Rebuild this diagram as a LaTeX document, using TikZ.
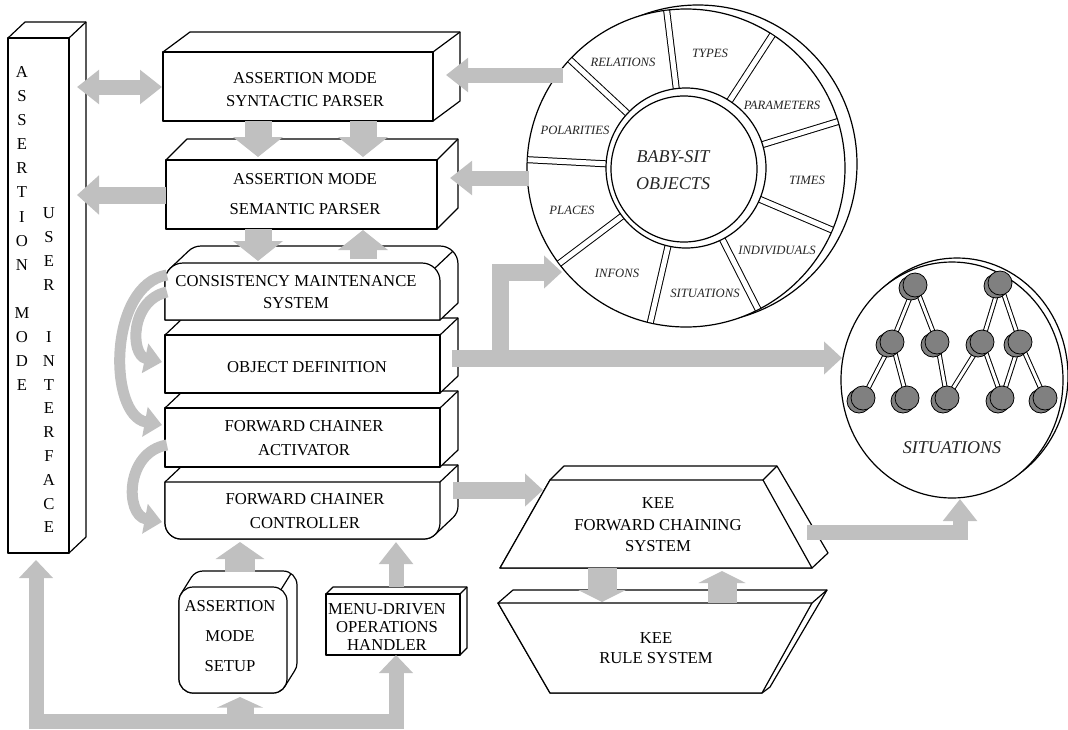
\documentclass[tikz,border=0pt]{standalone}
\usepackage{fontspec}
\setmainfont{Liberation Serif}
\usetikzlibrary{arrows.meta,calc}
\definecolor{agray}{RGB}{192,192,192}
\definecolor{bgray}{RGB}{128,128,128}
\newcommand{\cuboidbox}[6]{% x1 y1 x2 y2 dx dyup
  \draw[boxface] (#1,#4) -- (#1,#2) -- (#1+#5,#2-#6) -- (#3+#5,#2-#6) -- (#3+#5,#4-#6) -- (#3,#4) -- cycle;
  \draw[boxface] (#1,#2) rectangle (#3,#4);
  \draw[boxface] (#3,#2) -- (#3+#5,#2-#6);
}
\tikzset{
  boxface/.style={draw=black,fill=white,line width=0.9pt,line join=round},
  txt/.style={font=\fontsize{12.5}{#1}\selectfont,inner sep=0pt,align=center},
  txt/.default=17pt,
  wtxt/.style={font=\fontsize{9.5}{11}\selectfont\itshape,inner sep=0pt,text=black!85},
  btxt/.style={font=\fontsize{13.5}{20}\selectfont\itshape,inner sep=0pt,align=center,text=black!85},
  garrow/.style n args={3}{draw=agray,line width=#1,line join=miter,-{Triangle[width=#2,length=#3]}},
  smallarrow/.style={garrow={11.25pt}{24.75pt}{16.5pt}},
  medarrow/.style={garrow={12.75pt}{24pt}{13.5pt}},
  bigarrow/.style={garrow={20.25pt}{36.75pt}{15pt}},
  keearrow/.style={garrow={21.75pt}{35.25pt}{9pt}},
  curvarrow/.style={garrow={8.25pt}{22pt}{13pt}},
  ball/.style={circle,draw=black,fill=bgray,line width=0.6pt,minimum size=18pt,inner sep=0pt},
  rodout/.style={draw=black,line width=3.75pt},
  rodin/.style={draw=white,line width=2.25pt},
}
\begin{document}
\begin{tikzpicture}[x=0.75pt,y=-0.75pt]
\useasboundingbox (0,0) rectangle (1068,729);

% ---------- user interface column
\cuboidbox{8}{38}{69}{553}{17}{16}
\foreach \ch [count=\i from 0] in {A,S,S,E,R,T,I,O,N} \node[txt] (am\i) at (22,72+24.1*\i) {\ch};
\foreach \ch [count=\i from 0] in {M,O,D,E} \node[txt] (md\i) at (22,313+24.1*\i) {\ch};
\foreach \ch [count=\i from 0] in {U,S,E,R} \node[txt] (us\i) at (49,213+24*\i) {\ch};
\foreach \ch [count=\i from 0] in {I,N,T,E,R,F,A,C,E} \node[txt] (if\i) at (49,337+23.8*\i) {\ch};

% ---------- parsers
\cuboidbox{163}{52}{433}{121}{27}{20}
\node[txt=17.25pt] (syn) at (305,90) {ASSERTION MODE\\SYNTACTIC PARSER};
\cuboidbox{166}{160}{437}{229}{21}{21}
\node[txt=22pt] (sem) at (305,194) {ASSERTION MODE\\SEMANTIC PARSER};

% ---------- stack
% FCC
\draw[boxface] (165,482) -- (183,465) -- (458,465) -- (458,506) arc[start angle=0,end angle=45,radius=16] -- ++(-18,17) arc[start angle=45,end angle=90,radius=16] -- (181,539) arc[start angle=90,end angle=180,radius=16] -- cycle;
\draw[boxface] (165,482) -- (440,482) -- (440,523) arc[start angle=0,end angle=90,radius=16] -- (181,539) arc[start angle=90,end angle=180,radius=16] -- cycle;
\draw[boxface] (440,482) -- (458,465);
% FCA, OD
\cuboidbox{165}{408}{440}{467}{18}{17}
\cuboidbox{165}{335}{440}{393}{18}{17}
% CMS
\draw[boxface] (165,320) -- (165,281) arc[start angle=180,end angle=225,radius=18] -- ++(18,-17) arc[start angle=225,end angle=270,radius=18] -- (440,246) arc[start angle=270,end angle=360,radius=18] -- (458,303) -- (440,320) -- cycle;
\draw[boxface] (165,320) -- (165,281) arc[start angle=180,end angle=270,radius=18] -- (422,263) arc[start angle=270,end angle=360,radius=18] -- (440,320) -- cycle;
\draw[boxface] (434.73,268.27) -- ++(18,-17);
\node[txt] (cms) at (296,292) {CONSISTENCY MAINTENANCE\\SYSTEM};
\node[txt] (od) at (307,367) {OBJECT DEFINITION};
\node[txt=18.5pt] (fca) at (304,438) {FORWARD CHAINER\\ACTIVATOR};
\node[txt=18pt] (fcc) at (305,511) {FORWARD CHAINER\\CONTROLLER};

% ---------- assertion mode setup
\draw[boxface] (179,679) -- (179,601) arc[start angle=180,end angle=215,radius=14] -- ++(10,-16) arc[start angle=215,end angle=270,radius=14] -- (283,571) arc[start angle=270,end angle=360,radius=14] -- (297,663) arc[start angle=0,end angle=35,radius=14] -- ++(-10,16) arc[start angle=35,end angle=90,radius=14] -- (193,693) arc[start angle=90,end angle=180,radius=14] -- cycle;
\draw[boxface,rounded corners=10.5pt] (179,587) rectangle (287,693);
\draw[boxface] (281.03,589.53) -- ++(10,-16);
\node[txt=22.5pt] (ams) at (230,636) {ASSERTION\\MODE\\SETUP};

% ---------- menu-driven operations handler
\cuboidbox{326}{594}{460}{655}{7}{7}
\node[txt=13.2pt] (moh) at (387,627) {MENU-DRIVEN\\OPERATIONS\\HANDLER};

% ---------- KEE forward chaining system
\draw[boxface] (500,568) -- (550,480) -- (564,466) -- (777,466) -- (828,553) -- (812,568) -- cycle;
\draw[boxface] (500,568) -- (550,480) -- (763,480) -- (812,568) -- cycle;
\draw[boxface] (763,480) -- (777,466);
\node[txt=16.1pt] (fcs) at (658,525) {KEE\\FORWARD CHAINING\\SYSTEM};

% ---------- KEE rule system
\draw[boxface] (550,693) -- (498,603) -- (513,590) -- (827,590) -- (770,687) -- (762,693) -- cycle;
\draw[boxface] (498,603) -- (812,603) -- (762,693) -- (550,693) -- cycle;
\draw[boxface] (812,603) -- (827,590);
\node[txt=15pt] (rs) at (656,648) {KEE\\RULE SYSTEM};

% ---------- BABY-SIT wheel
\begin{scope}[shift={(686,168)}]
  \draw[boxface] (12,-4) circle[radius=159];
  \draw[boxface] (0,0) circle[radius=159];
  \foreach \a in {-97,-57,...,223} {
    \draw[line width=5.25pt] (\a:79) -- (\a:159);
    \draw[white,line width=3.75pt] (\a:78) -- (\a:158.4);
  }
  \draw[boxface] (0,0) circle[radius=80];
  \draw[boxface] (-2,1) circle[radius=73];
\end{scope}
\node[btxt] (bso) at (673,170) {BABY-SIT\\OBJECTS};
\node[wtxt] (wrel) at (623,62) {RELATIONS};
\node[wtxt] (wtyp) at (710,53) {TYPES};
\node[wtxt] (wpar) at (782,105) {PARAMETERS};
\node[wtxt] (wtim) at (807,180) {TIMES};
\node[wtxt] (wind) at (777,250) {INDIVIDUALS};
\node[wtxt] (wsit) at (705,293) {SITUATIONS};
\node[wtxt] (winf) at (617,273) {INFONS};
\node[wtxt] (wpla) at (572,210) {PLACES};
\node[wtxt] (wpol) at (575,130) {POLARITIES};

% ---------- SITUATIONS
\draw[boxface] (957,376) ellipse[x radius=111,y radius=118];
\draw[boxface] (952,380) ellipse[x radius=111,y radius=118];
\coordinate (t1) at (915,285); \coordinate (t2) at (1000,283);
\coordinate (m1) at (892,342); \coordinate (m2) at (937,342);
\coordinate (m3) at (982,342); \coordinate (m4) at (1020,342);
\coordinate (b1) at (863,398); \coordinate (b2) at (907,398);
\coordinate (b3) at (947,398); \coordinate (b4) at (1002,398);
\coordinate (b5) at (1045,398);
\foreach \p/\q in {t1/m1,t1/m2,t2/m3,t2/m4,m1/b1,m1/b2,m2/b3,m3/b3,m3/b4,m4/b4,m4/b5} {
  \draw[rodout] (\p) -- (\q);
  \draw[rodin] (\p) -- (\q);
}
\foreach \p in {t1,t2,m1,m2,m3,m4,b1,b2,b3,b4,b5} {
  \node[ball] (\p back) at ($(\p)+(-4,3)$) {};
  \node[ball] (\p ball) at (\p) {};
}
\node[btxt] (sit) at (952,448) {SITUATIONS};

% ---------- connector end points
\coordinate (uiR) at (77,87);   \coordinate (synL) at (162,87);
\coordinate (semL) at (166,195); \coordinate (uiR2) at (77,195);
\coordinate (whA) at (563,75);  \coordinate (synR) at (446,75);
\coordinate (whB) at (529,178); \coordinate (semR) at (450,178);
\coordinate (synB1) at (258,121); \coordinate (semT1) at (258,157);
\coordinate (synB2) at (363,121); \coordinate (semT2) at (363,157);
\coordinate (semB1) at (258,229); \coordinate (cmsT1) at (258,261);
\coordinate (cmsT2) at (363,259); \coordinate (semB2) at (363,230);
\coordinate (cmsL1) at (167,275); \coordinate (fcaL) at (162,425);
\coordinate (cmsL2) at (167,292); \coordinate (odL) at (162,362);
\coordinate (fcaL2) at (167,445); \coordinate (fccL) at (162,522);
\coordinate (odR) at (452,358); \coordinate (sitL) at (842,358);
\coordinate (brk) at (500,358); \coordinate (brc) at (500,272); \coordinate (infon) at (562,272);
\coordinate (fccR) at (453,490); \coordinate (fcsL) at (543,490);
\coordinate (fcsR) at (807,532); \coordinate (fcsC) at (960,532); \coordinate (sitB) at (960,499);
\coordinate (fcsB1) at (602,568); \coordinate (rsT1) at (602,602);
\coordinate (rsT2) at (722,603); \coordinate (fcsB2) at (722,571);
\coordinate (amsT) at (240,572); \coordinate (fccB1) at (240,542);
\coordinate (mohT) at (396,587); \coordinate (fccB2) at (396,542);
\coordinate (uiB) at (36,560); \coordinate (barL) at (36,721);
\coordinate (barR) at (396,721); \coordinate (mohB) at (396,655);
\coordinate (barM) at (240,721); \coordinate (amsB) at (240,697);

% ---------- connectors
\draw[smallarrow,{Triangle[width=24.75pt,length=16.5pt]}-{Triangle[width=24.75pt,length=16.5pt]}] (uiR) -- (synL);
\draw[garrow={12.75pt}{28.5pt}{16.5pt}] (semL) -- (uiR2);
\draw[smallarrow] (whA) -- (synR);
\draw[smallarrow] (whB) -- (semR);
\draw[bigarrow] (synB1) -- (semT1);
\draw[bigarrow] (synB2) -- (semT2);
\draw[bigarrow] (semB1) -- (cmsT1);
\draw[bigarrow] (cmsT2) -- (semB2);
\draw[curvarrow] (cmsL1) .. controls (108,285) and (108,415) .. (fcaL);
\draw[curvarrow] (cmsL2) .. controls (130,300) and (130,355) .. (odL);
\draw[curvarrow] (fcaL2) .. controls (125,452) and (125,515) .. (fccL);
\draw[medarrow] (odR) -- (sitL);
\draw[medarrow] (brk) -- (brc) -- (infon);
\draw[medarrow] (fccR) -- (fcsL);
\draw[smallarrow] (fcsR) -- (fcsC) -- (sitB);
\draw[keearrow] (fcsB1) -- (rsT1);
\draw[keearrow] (rsT2) -- (fcsB2);
\draw[garrow={22.5pt}{36pt}{12.75pt}] (amsT) -- (fccB1);
\draw[smallarrow] (mohT) -- (fccB2);
\draw[smallarrow,{Triangle[width=24.75pt,length=13.5pt]}-{Triangle[width=24.75pt,length=13.5pt]}] (uiB) -- (barL) -- (barR) -- (mohB);
\draw[garrow={20.25pt}{34.5pt}{8pt}] (barM) -- (amsB);
\end{tikzpicture}
\end{document}
